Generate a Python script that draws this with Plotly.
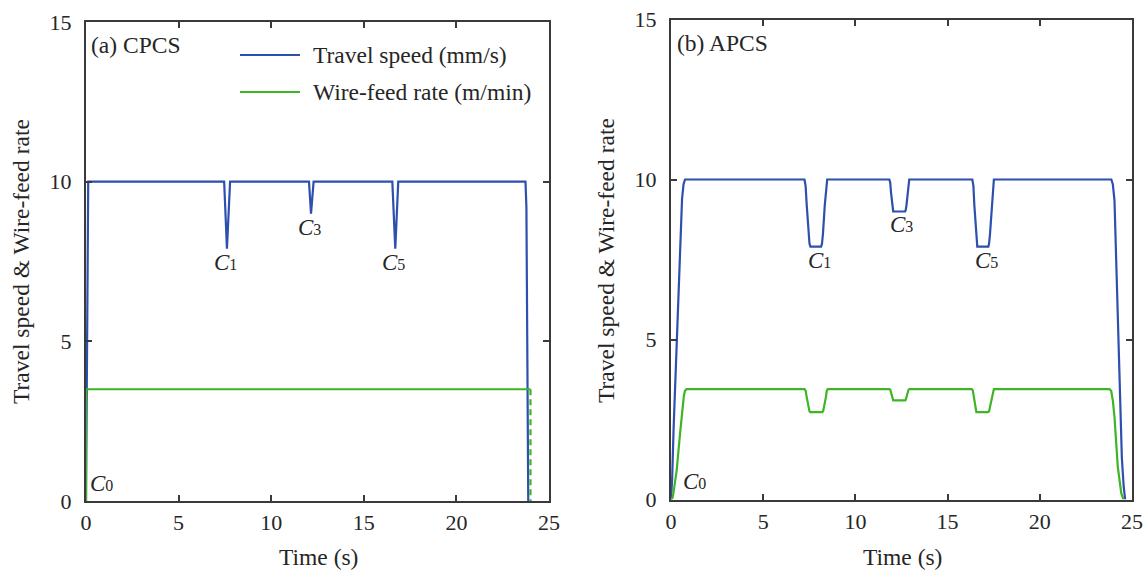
import plotly.graph_objects as go

# ---------------- (a) CPCS: travel speed (mm/s) and wire-feed rate (m/min) ----------------
a_speed_t = [0.0, 0.12, 7.46, 7.61, 7.78, 12.04, 12.15, 12.29, 16.54, 16.70, 16.86, 23.73, 23.78, 23.88]
a_speed_v = [0.0, 10.0, 10.0, 7.9, 10.0, 10.0, 9.0, 10.0, 10.0, 7.9, 10.0, 10.0, 9.2, 0.0]

a_feed_t = [0.0, 0.0, 24.0]
a_feed_v = [0.0, 3.5, 3.5]
a_feed_stop_t = [24.0, 24.0]
a_feed_stop_v = [3.5, 0.0]

# ---------------- (b) APCS ----------------
b_speed_t = [0.0, 0.06, 0.14, 0.31, 0.48, 0.60, 0.68, 0.76,
             7.24, 7.30, 7.36, 7.46, 7.51, 7.56, 8.14, 8.19, 8.24, 8.34, 8.41, 8.47,
             11.84, 11.89, 11.93, 11.99, 12.02, 12.05, 12.70, 12.73, 12.77, 12.83, 12.88, 12.92,
             16.34, 16.40, 16.45, 16.54, 16.58, 16.61, 17.21, 17.25, 17.30, 17.40, 17.46, 17.51,
             23.88, 23.96, 24.05, 24.27, 24.45, 24.55, 24.63]
b_speed_v = [0.0, 0.6, 2.2, 5.0, 7.8, 9.4, 9.85, 10.0,
             10.0, 9.8, 9.2, 8.3, 8.0, 7.9, 7.9, 8.0, 8.3, 9.2, 9.8, 10.0,
             10.0, 9.9, 9.6, 9.2, 9.05, 9.0, 9.0, 9.05, 9.2, 9.6, 9.9, 10.0,
             10.0, 9.8, 9.2, 8.3, 8.0, 7.9, 7.9, 8.0, 8.3, 9.2, 9.8, 10.0,
             10.0, 9.85, 9.35, 5.0, 1.3, 0.4, 0.0]

b_feed_t = [0.0, 0.08, 0.13, 0.22, 0.31, 0.49, 0.62, 0.70, 0.76, 0.84,
            7.24, 7.30, 7.36, 7.45, 7.51, 7.55, 8.20, 8.25, 8.31, 8.40, 8.45, 8.50,
            11.84, 11.89, 11.93, 11.99, 12.02, 12.05, 12.70, 12.73, 12.77, 12.83, 12.88, 12.92,
            16.31, 16.37, 16.42, 16.49, 16.53, 16.56, 17.20, 17.25, 17.30, 17.40, 17.46, 17.51,
            23.78, 23.87, 23.96, 24.05, 24.23, 24.35, 24.42, 24.54]
b_feed_v = [0.0, 0.05, 0.19, 0.5, 0.92, 2.06, 2.85, 3.25, 3.4, 3.45,
            3.45, 3.40, 3.2, 2.9, 2.76, 2.73, 2.73, 2.76, 2.9, 3.2, 3.40, 3.45,
            3.45, 3.43, 3.35, 3.2, 3.12, 3.1, 3.1, 3.12, 3.2, 3.35, 3.43, 3.45,
            3.45, 3.40, 3.2, 2.9, 2.76, 2.73, 2.73, 2.76, 2.9, 3.2, 3.40, 3.45,
            3.45, 3.4, 3.1, 2.58, 1.02, 0.45, 0.19, 0.0]

x_ticks = [0, 5, 10, 15, 20, 25]
y_ticks = [0, 5, 10, 15]

BLUE = "#2d4fae"
GREEN = "#3db524"
AXIS = "#3a3a3a"
TEXT = "#262626"
FONT = "Liberation Serif, Times New Roman, serif"
W, H = 1146, 572

fig = go.Figure()
line_w = 2.2
fig.add_trace(go.Scatter(x=a_speed_t, y=a_speed_v, mode="lines", line=dict(color=BLUE, width=line_w),
                         xaxis="x", yaxis="y", showlegend=False))
fig.add_trace(go.Scatter(x=a_feed_t, y=a_feed_v, mode="lines", line=dict(color=GREEN, width=line_w),
                         xaxis="x", yaxis="y", showlegend=False))
fig.add_trace(go.Scatter(x=a_feed_stop_t, y=a_feed_stop_v, mode="lines",
                         line=dict(color=GREEN, width=line_w, dash="6px,4px"),
                         xaxis="x", yaxis="y", showlegend=False))
fig.add_trace(go.Scatter(x=b_speed_t, y=b_speed_v, mode="lines", line=dict(color=BLUE, width=line_w),
                         xaxis="x2", yaxis="y2", showlegend=False))
fig.add_trace(go.Scatter(x=b_feed_t, y=b_feed_v, mode="lines", line=dict(color=GREEN, width=line_w),
                         xaxis="x2", yaxis="y2", showlegend=False))


def px_x(p):
    return p / W


def px_y(p):
    return 1 - p / H


axis_common = dict(
    showline=True, linecolor=AXIS, linewidth=2, mirror="ticks",
    ticks="inside", ticklen=6, tickwidth=1.5, tickcolor=AXIS,
    showgrid=False, zeroline=False, automargin=False,
    tickfont=dict(family=FONT, size=22, color=TEXT),
)
x_common = dict(axis_common, ticklabelstandoff=1)
y_common = dict(axis_common, ticklabelstandoff=8)

fig.update_layout(
    template="none",
    width=W, height=H,
    margin=dict(l=0, r=0, t=0, b=0, pad=0),
    paper_bgcolor="white", plot_bgcolor="white",
    font=dict(family=FONT, color=TEXT),
    xaxis=dict(domain=[px_x(86), px_x(549)], range=[0, 25], tickvals=x_ticks, anchor="y", **x_common),
    yaxis=dict(domain=[px_y(501), px_y(22)], range=[0, 15], tickvals=y_ticks, anchor="x", **y_common),
    xaxis2=dict(domain=[px_x(671), px_x(1132)], range=[0, 25], tickvals=x_ticks, anchor="y2", **x_common),
    yaxis2=dict(domain=[px_y(499.5), px_y(19.5)], range=[0, 15], tickvals=y_ticks, anchor="x2", **y_common),
)

ann = []
lbl_font = dict(family=FONT, size=23.5, color=TEXT)
c_font = dict(family=FONT, size=23, color=TEXT)


def clabel(idx, xref, yref, x, y, xshift=0, yshift=0):
    ann.append(dict(text=f"<i>C</i><span style='font-size:16px'>{idx}</span>",
                    x=x, y=y, xref=xref, yref=yref, xanchor="center", yanchor="top",
                    xshift=xshift, yshift=yshift, showarrow=False, font=c_font))


# dip labels of panel (a), anchored at the dip bottoms
clabel(1, "x", "y", a_speed_t[3], a_speed_v[3], xshift=-1, yshift=1)
clabel(3, "x", "y", a_speed_t[6], a_speed_v[6], xshift=-2, yshift=1)
clabel(5, "x", "y", a_speed_t[9], a_speed_v[9], xshift=-2, yshift=1)
# dip labels of panel (b)
clabel(1, "x2", "y2", (b_speed_t[13] + b_speed_t[14]) / 2, b_speed_v[13], xshift=4, yshift=1)
clabel(3, "x2", "y2", (b_speed_t[25] + b_speed_t[26]) / 2, b_speed_v[25], xshift=2, yshift=1)
clabel(5, "x2", "y2", (b_speed_t[37] + b_speed_t[38]) / 2, b_speed_v[37], xshift=4, yshift=1)

# start points
ann.append(dict(text="<i>C</i><span style='font-size:16px'>0</span>", x=0, y=0, xref="x", yref="y",
                xanchor="left", yanchor="bottom", xshift=2, yshift=3, showarrow=False, font=c_font))
ann.append(dict(text="<i>C</i><span style='font-size:16px'>0</span>", x=0, y=0, xref="x2", yref="y2",
                xanchor="left", yanchor="bottom", xshift=10, yshift=4, showarrow=False, font=c_font))

# panel tags
ann.append(dict(text="(a) CPCS", x=px_x(89), y=px_y(45), xref="paper", yref="paper",
                xanchor="left", yanchor="middle", showarrow=False, font=lbl_font))
ann.append(dict(text="(b) APCS", x=px_x(675), y=px_y(43), xref="paper", yref="paper",
                xanchor="left", yanchor="middle", showarrow=False, font=lbl_font))

# axis titles
for cx in (318, 902):
    ann.append(dict(text="Time (s)", x=px_x(cx), y=px_y(557), xref="paper", yref="paper",
                    xanchor="center", yanchor="middle", showarrow=False, font=lbl_font))
for cx, cy in ((21, 262), (606, 260)):
    ann.append(dict(text="Travel speed & Wire-feed rate", x=px_x(cx), y=px_y(cy), xref="paper", yref="paper",
                    xanchor="center", yanchor="middle", textangle=-90, showarrow=False, font=lbl_font))

# legend in panel (a)
shapes = []
for name, color, py in (("Travel speed (mm/s)", BLUE, 55), ("Wire-feed rate (m/min)", GREEN, 92)):
    shapes.append(dict(type="line", xref="paper", yref="paper", x0=px_x(240), x1=px_x(300),
                       y0=px_y(py), y1=px_y(py), line=dict(color=color, width=line_w)))
    ann.append(dict(text=name, x=px_x(311), y=px_y(py), xref="paper", yref="paper",
                    xanchor="left", yanchor="middle", showarrow=False, font=lbl_font))

fig.update_layout(annotations=ann, shapes=shapes)
fig.write_html("out.html")
